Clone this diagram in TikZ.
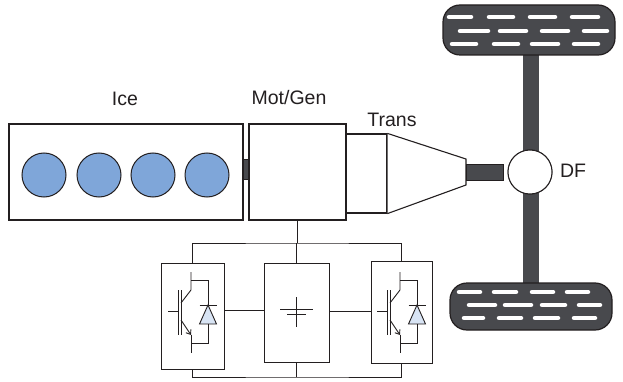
\documentclass[tikz,border=0pt]{standalone}
\usepackage{fontspec}
\setmainfont{Liberation Sans}
\usetikzlibrary{arrows.meta}
\definecolor{ink}{HTML}{231F20}
\definecolor{rubber}{HTML}{48494D}
\definecolor{cyl}{HTML}{7FA6D9}
\definecolor{diodefill}{HTML}{D8E4F4}

\begin{document}
\begin{tikzpicture}[x=1pt,y=-1pt,
  box/.style={draw=ink, line width=1.1pt, fill=white, inner sep=0pt},
  cell/.style={draw=ink, line width=0.9pt, fill=white, inner sep=0pt},
  wire/.style={draw=ink, line width=0.9pt},
  cylinder/.style={circle, draw=ink, line width=1pt, fill=cyl, minimum size=44pt, inner sep=0pt},
  label/.style={font=\fontsize{19.5}{20}\selectfont, text=ink, anchor=base, inner sep=0pt},
  shaft/.style={fill=rubber, draw=ink, line width=0.5pt},
  tyre/.style={fill=rubber, draw=ink, line width=1.2pt, rounded corners=17pt},
  tread/.style={draw=white, line width=4.5pt, line cap=round},
  igbt/.pic={
    \draw[wire] (-24.5,0) -- (-14.5,0);
    \draw[wire] (-14.5,-21) -- (-14.5,24);
    \draw[wire] (-11.5,-21) -- (-11.5,24);
    \draw[wire] (-11.5,-8) -- (-1.5,-21) -- (-1.5,-39);
    \draw[wire, -{Straight Barb[length=4pt,width=6pt]}] (-11.5,9) -- (-1.5,24);
    \draw[wire] (-1.5,24) -- (-1.5,42);
    \draw[wire] (-1.5,-31) -- (15.5,-31) -- (15.5,-6);
    \draw[wire] (7,-6) -- (24,-6);
    \draw[wire, fill=diodefill] (15.5,-6) -- (7,13) -- (24,13) -- cycle;
    \draw[wire] (15.5,13) -- (15.5,32) -- (-1.5,32);
  }]
\useasboundingbox (0,0) rectangle (623,382);

% drive axle behind the wheels and differential
\fill[rubber] (523,50) rectangle (539,288);

% wheels
\path[tyre] (443,5) rectangle (615,55);
\path[tyre] (450,283) rectangle (612,330);
\foreach \y/\a/\b/\c/\d/\e/\f/\g/\h in {
   17/447/473/487/515/528/557/570/600,
   31/458/490/498/528/540/570/582/609,
   44/450/478/492/520/530/560/572/600,
  292/457/482/492/518/530/555/565/590,
  305/467/497/503/533/540/567/577/602,
  318/462/485/497/523/533/560/572/597}{
  \draw[tread] (\a+2,\y) -- (\b-2,\y);
  \draw[tread] (\c+2,\y) -- (\d-2,\y);
  \draw[tread] (\e+2,\y) -- (\f-2,\y);
  \draw[tread] (\g+2,\y) -- (\h-2,\y);
}

% engine block with four cylinders
\node[box, minimum width=234pt, minimum height=96pt] (ice) at (126,172) {};
\foreach \x [count=\i] in {44,99,153,207}
  \node[cylinder] (c\i) at (\x,175) {};

% motor / generator
\node[box, minimum width=97pt, minimum height=96pt] (mot) at (297.5,172) {};
\path[shaft] (ice.east |- 0,159) rectangle (mot.west |- 0,179);

% transmission: housing and tapered case
\node[box, minimum width=41pt, minimum height=79pt] (trans) at (366.5,173.5) {};
\coordinate (coneT) at (466,159);
\coordinate (coneB) at (466,185);
\draw[ink, line width=1.1pt, fill=white] (trans.north east) -- (coneT) -- (coneB) -- (trans.south east);

% differential
\node[circle, draw=ink, line width=1pt, fill=white, minimum size=44pt, inner sep=0pt] (df) at (530,172) {};
\path[shaft] (coneT |- 0,164) rectangle ([xshift=-4pt]df.west |- 0,180);
\node[circle, draw=ink, line width=1pt, fill=white, minimum size=44pt, inner sep=0pt] at (df) {};

% labels
\node[label] (lice) at (125,106) {Ice};
\node[label] (lmot) at (289,105) {Mot/Gen};
\node[label] (ltrans) at (392,127) {Trans};
\node[label] (ldf) at (573,178) {DF};

% power electronics: two converters and the battery
\node[cell, minimum width=63pt, minimum height=106pt] (lb) at (192.5,316) {};
\node[cell, minimum width=65pt, minimum height=99pt] (mb) at (296.5,312.5) {};
\node[cell, minimum width=61pt, minimum height=102pt] (rb) at (401.5,312) {};

\coordinate (busT) at (mot.south |- 0,243);
\coordinate (busB) at (mot.south |- 0,377);
\draw[wire] (mot.south) -- (busT);
\draw[wire] (lb.north) |- (busT) -| (rb.north);
\draw[wire] (busT -| mb.north) -- (mb.north);
\draw[wire] (lb.south) |- (busB) -| (rb.south);
\draw[wire] (mb.south) -- (busB -| mb.south);
\draw[wire] (lb.east |- 0,310) -- (mb.west |- 0,310);
\draw[wire] (mb.east |- 0,311) -- (rb.west |- 0,311);

% battery symbol
\draw[wire] ([shift={(-16.5,-3.5)}]mb.center) -- ([shift={(16.5,-3.5)}]mb.center);
\draw[wire] ([shift={(-9.5,1.5)}]mb.center) -- ([shift={(9.5,1.5)}]mb.center);
\draw[wire] ([shift={(0,-15.5)}]mb.center) -- ([shift={(0,14.5)}]mb.center);

% switches with anti-parallel diodes
\pic at (192.5,311) {igbt};
\pic at (401.5,311) {igbt};
\end{tikzpicture}
\end{document}
